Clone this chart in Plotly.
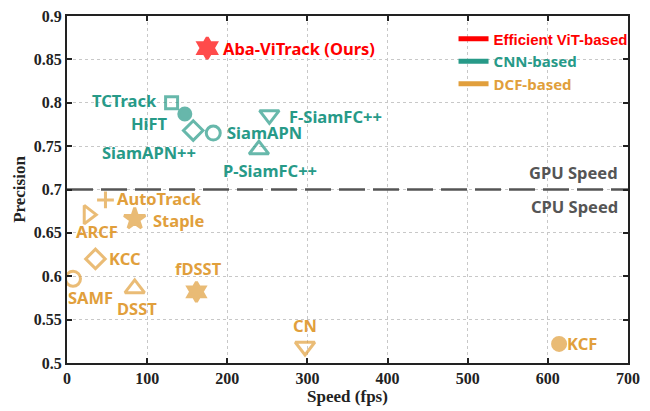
import plotly.graph_objects as go

# ---------------- data ----------------
vit_names = ["Aba-ViTrack (Ours)"]
vit_speed = [175]
vit_prec = [0.863]

cnn_names = ["TCTrack", "HiFT", "SiamAPN++", "SiamAPN", "F-SiamFC++", "P-SiamFC++"]
cnn_speed = [130.5, 147, 157.5, 182.5, 252.5, 239.5]
cnn_prec = [0.800, 0.787, 0.768, 0.765, 0.786, 0.746]

dcf_names = ["AutoTrack", "ARCF", "Staple", "KCC", "SAMF", "DSST", "fDSST", "CN", "KCF"]
dcf_speed = [48, 26.5, 84.5, 35.5, 7.5, 84.5, 161.5, 297, 614]
dcf_prec = [0.688, 0.671, 0.666, 0.620, 0.597, 0.586, 0.582, 0.519, 0.522]

category_names = ["Efficient ViT-based", "CNN-based", "DCF-based"]
x_ticks = [0, 100, 200, 300, 400, 500, 600, 700]
y_ticks = [0.5, 0.55, 0.6, 0.65, 0.7, 0.75, 0.8, 0.85, 0.9]
y_tick_labels = ["0.5", "0.55", "0.6", "0.65", "0.7", "0.75", "0.8", "0.85", "0.9"]
speed_threshold = 0.7

# ---------------- styles ----------------
RED = "#FF0000"
TEAL = "#279A88"
ORANGE = "#E19F3C"
GRAY = "#555555"
LABEL_FONT = "Noto Sans"
LBL_SIZE = 16.5

vit_symbols = ["hexagram"]
cnn_symbols = ["square-open", "circle", "diamond-open", "circle-open",
               "triangle-down-open", "triangle-up-open"]
dcf_symbols = ["cross-thin-open", "triangle-right-open", "star", "diamond-open", "circle-open",
               "triangle-up-open", "hexagram", "triangle-down-open", "circle"]
vit_sizes = [16]
cnn_sizes = [12, 12, 15, 14, 17, 17]
dcf_sizes = [12, 16, 16, 15, 15, 17, 15, 17, 13]

# label placement (anchor, xshift, yshift) per point
vit_lab = [("left", 14, 0)]
cnn_lab = [("right", -13, 2), ("right", -15, -9), ("right", 5, -22),
           ("left", 12, 1), ("left", 18, -2), ("center", 11, -21)]
dcf_lab = [("left", 10, 1), ("center", 9, -17), ("left", 16, -1), ("left", 12, 0),
           ("center", 17, -19), ("center", 2, -20), ("center", 2, 23),
           ("center", 0, 21), ("left", 6, 0)]

# legend text styles
legend_fonts = ["Liberation Sans", "Noto Sans", "Noto Sans"]
legend_sizes = [15, 15, 15]

fig = go.Figure()

# threshold line
fig.add_trace(go.Scatter(
    x=[x_ticks[0], x_ticks[-1]], y=[speed_threshold, speed_threshold],
    mode="lines", line=dict(color=GRAY, width=2.5, dash="26px,8px"),
    showlegend=False, hoverinfo="skip"))

groups = [
    (vit_names, vit_speed, vit_prec, vit_symbols, vit_sizes, vit_lab, RED),
    (cnn_names, cnn_speed, cnn_prec, cnn_symbols, cnn_sizes, cnn_lab, TEAL),
    (dcf_names, dcf_speed, dcf_prec, dcf_symbols, dcf_sizes, dcf_lab, ORANGE),
]

annotations = []
for names, xs, ys, syms, sizes, labs, col in groups:
    fig.add_trace(go.Scatter(
        x=xs, y=ys, mode="markers", text=names, showlegend=False,
        marker=dict(symbol=syms, size=sizes, color=col,
                    line=dict(color=col, width=3))))
    for n, x, y, (anc, dx, dy) in zip(names, xs, ys, labs):
        annotations.append(dict(
            x=x, y=y, xref="x", yref="y", text="<b>%s</b>" % n, showarrow=False,
            xanchor=anc, yanchor="middle", xshift=dx, yshift=dy,
            font=dict(family=LABEL_FONT, size=LBL_SIZE, color=col)))

# legend entries
for name, col, fam, sz in zip(category_names, [RED, TEAL, ORANGE], legend_fonts, legend_sizes):
    fig.add_trace(go.Scatter(
        x=[None], y=[None], mode="lines", line=dict(color=col, width=5),
        name="<b><span style='color:%s;font-family:%s;font-size:%spx'>%s</span></b>"
             % (col, fam, sz, name)))

annotations.append(dict(x=x_ticks[-1], y=speed_threshold, xref="x", yref="y",
                        text="<b>GPU Speed</b>", showarrow=False, xanchor="right",
                        yanchor="bottom", xshift=-8, yshift=4,
                        font=dict(family=LABEL_FONT, size=LBL_SIZE, color=GRAY)))
annotations.append(dict(x=x_ticks[-1], y=speed_threshold, xref="x", yref="y",
                        text="<b>CPU Speed</b>", showarrow=False, xanchor="right",
                        yanchor="top", xshift=-8, yshift=-3,
                        font=dict(family=LABEL_FONT, size=LBL_SIZE, color=GRAY)))

axis_common = dict(
    showline=True, linecolor="#222222", linewidth=2, mirror="ticks",
    ticks="inside", ticklen=5, tickwidth=2, tickcolor="#222222",
    showgrid=True, gridcolor="#C8C8C8", gridwidth=1, griddash="dot",
    zeroline=False, automargin=False,
    tickfont=dict(family="Liberation Serif", size=16, color="#222222", weight="bold"),
)

fig.update_layout(
    width=650, height=411,
    margin=dict(l=67, r=22, t=16, b=48, autoexpand=False),
    plot_bgcolor="white", paper_bgcolor="white",
    annotations=annotations,
    legend=dict(x=0.689, y=0.981, xanchor="left", yanchor="top",
                bgcolor="rgba(0,0,0,0)", itemwidth=30, tracegroupgap=0,
                font=dict(family="Liberation Sans", size=15)),
    xaxis=dict(range=[x_ticks[0], x_ticks[-1]], tickvals=x_ticks,
               title=dict(text="Speed (fps)", standoff=4,
                          font=dict(family="Liberation Serif", size=17,
                                    color="#222222", weight="bold")),
               **axis_common),
    yaxis=dict(range=[y_ticks[0], y_ticks[-1]], tickvals=y_ticks,
               ticktext=y_tick_labels,
               title=dict(text="Precision", standoff=4,
                          font=dict(family="Liberation Serif", size=17,
                                    color="#222222", weight="bold")),
               **axis_common),
)

fig.write_html("out.html", config={"displayModeBar": False},
               post_script="document.body.style.margin='0';document.body.style.padding='0';")
